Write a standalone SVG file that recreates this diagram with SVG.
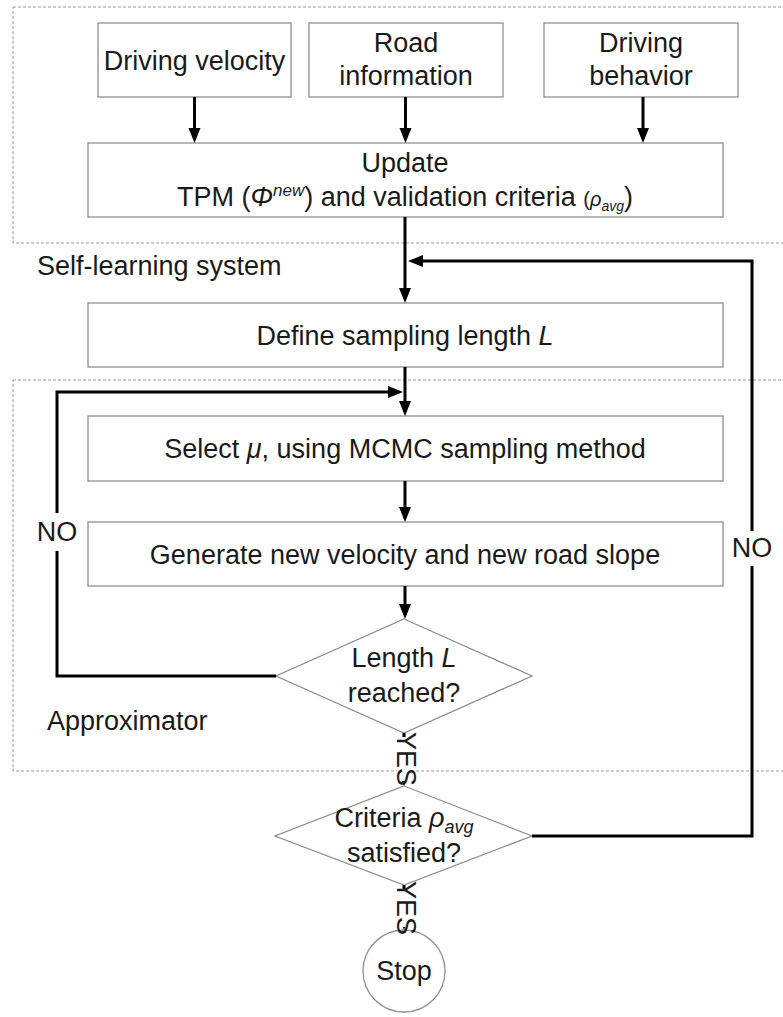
<svg xmlns="http://www.w3.org/2000/svg" width="783" height="1017" viewBox="0 0 783 1017">
<style>
.box{fill:#fff;stroke:#8f8f8f;stroke-width:1.3}
.t{font-family:"Liberation Sans",Arial,sans-serif;font-size:27px;fill:#1a1a1a;text-anchor:middle}
.lbl{font-family:"Liberation Sans",Arial,sans-serif;font-size:27px;fill:#1a1a1a}
.conn{fill:none;stroke:#000;stroke-width:3;marker-end:url(#ah)}
.dash{fill:none;stroke:#9a9a9a;stroke-width:1;stroke-dasharray:3 2}
.bg{fill:#fff}
</style>
<defs>
<marker id="ah" markerUnits="userSpaceOnUse" markerWidth="16" markerHeight="14" refX="11" refY="6" orient="auto">
<path d="M0,0 L15,6 L0,12 z" fill="#000"/>
</marker>
</defs>
<rect width="783" height="1017" fill="#fff"/>

<g id="self-learning-system">
<rect class="dash" x="13" y="7" width="800" height="236"/>
<text class="lbl" x="37" y="275">Self-learning system</text>
</g>
<g id="approximator">
<rect class="dash" x="13" y="380" width="800" height="391"/>
<text class="lbl" x="47" y="730">Approximator</text>
</g>

<g id="driving-velocity">
<rect class="box" x="98" y="23" width="193" height="74"/>
<text class="t" x="194.5" y="70">Driving velocity</text>
</g>
<g id="road-information">
<rect class="box" x="309" y="23" width="194" height="74"/>
<text class="t" x="406" y="52">Road</text>
<text class="t" x="406" y="85">information</text>
</g>
<g id="driving-behavior">
<rect class="box" x="544" y="23" width="194" height="74"/>
<text class="t" x="641" y="52">Driving</text>
<text class="t" x="641" y="85">behavior</text>
</g>
<g id="update">
<rect class="box" x="88" y="143" width="635" height="74"/>
<text class="t" x="405" y="172">Update</text>
<text class="t" x="405" y="206">TPM (<tspan font-style="italic">Φ</tspan><tspan font-style="italic" font-size="17" dy="-10">new</tspan><tspan dy="10">) and validation criteria </tspan><tspan font-size="20">(</tspan><tspan font-size="20" font-style="italic">ρ</tspan><tspan font-style="italic" font-size="14" dy="5">avg</tspan><tspan dy="-5">)</tspan></text>
</g>
<g id="define-length">
<rect class="box" x="88" y="303" width="635" height="64"/>
<text class="t" x="405" y="345">Define sampling length <tspan font-style="italic">L</tspan></text>
</g>
<g id="select-mu">
<rect class="box" x="88" y="416" width="635" height="65"/>
<text class="t" x="405" y="458">Select <tspan font-style="italic">μ</tspan>, using MCMC sampling method</text>
</g>
<g id="generate">
<rect class="box" x="88" y="522" width="635" height="64"/>
<text class="t" x="405" y="564">Generate new velocity and new road slope</text>
</g>
<g id="length-reached">
<polygon class="box" points="404,619 532,676 404,733 276,676"/>
<text class="t" x="404" y="667">Length <tspan font-style="italic">L</tspan></text>
<text class="t" x="404" y="702">reached?</text>
</g>
<g id="criteria-satisfied">
<polygon class="box" points="404,786 532,836 404,885 275,836"/>
<text class="t" x="404" y="827">Criteria <tspan font-style="italic">ρ</tspan><tspan font-style="italic" font-size="18" dy="6">avg</tspan></text>
<text class="t" x="404" y="862">satisfied?</text>
</g>
<g id="stop">
<circle class="box" cx="404" cy="971" r="41"/>
<text class="t" x="404" y="980">Stop</text>
</g>

<g id="connectors">
<path class="conn" d="M194.5,97 V139"/>
<path class="conn" d="M405.5,97 V139"/>
<path class="conn" d="M643,97 V139"/>
<path class="conn" d="M405,217 V299"/>
<path class="conn" d="M532,836 H752 V261 H412"/>
<path class="conn" d="M405,367 V412"/>
<path class="conn" d="M276,676 H57 V392 H399"/>
<path class="conn" d="M405,481 V518"/>
<path class="conn" d="M405,586 V615"/>
<path class="conn" d="M404,733 V782"/>
<path class="conn" d="M404,885 V926"/>
<rect class="bg" x="40" y="513" width="34" height="38"/>
<text class="t" x="57" y="541" font-size="25">NO</text>
<rect class="bg" x="735" y="531" width="34" height="35"/>
<text class="t" x="752" y="557" font-size="25">NO</text>
<rect class="bg" x="397" y="737" width="14" height="44"/>
<text class="t" font-size="19" transform="translate(404,759) rotate(90)" dy="7">YES</text>
<rect class="bg" x="397" y="889" width="14" height="38"/>
<text class="t" font-size="19" transform="translate(404,908) rotate(90)" dy="7">YES</text>
</g>
</svg>
